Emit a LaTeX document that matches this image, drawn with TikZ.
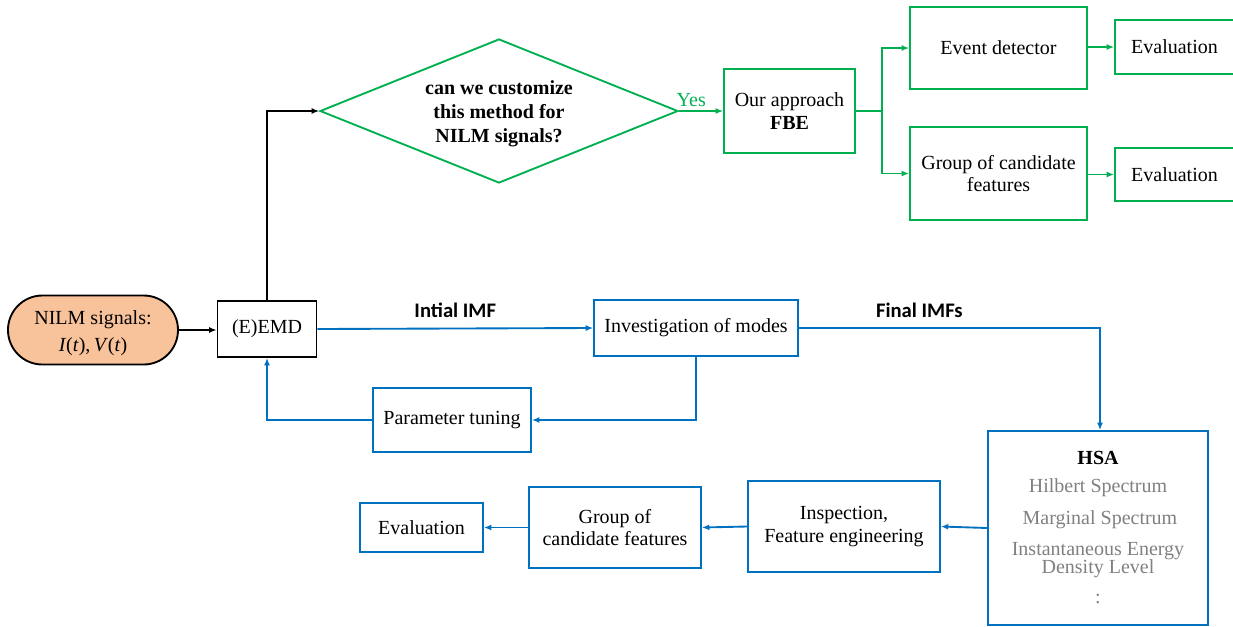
\documentclass[tikz,border=0pt]{standalone}
\usepackage{fontspec}
\setmainfont{Liberation Serif}
\newfontfamily\labfont{Carlito}
\usetikzlibrary{arrows.meta,shapes.geometric}
\definecolor{gr}{HTML}{00B050}
\definecolor{bl}{HTML}{0070C0}
\definecolor{org}{HTML}{F8C29B}
\definecolor{gry}{HTML}{808080}
\tikzset{
  box/.style={draw,line width=1.4pt,align=center,font=\fontsize{15}{17}\selectfont,inner sep=0pt},
  gbox/.style={box,draw=gr},
  bbox/.style={box,draw=bl},
  con/.style={line width=1.4pt,-{Latex[length=5.5pt,width=4.5pt]}},
  gcon/.style={con,draw=gr,color=gr},
  bcon/.style={con,draw=bl,color=bl},
  lab/.style={font=\labfont\bfseries\fontsize{15.5}{17}\selectfont},
  hs/.style={text=gry,font=\fontsize{15}{14}\selectfont,align=center}
}
\begin{document}
\begin{tikzpicture}[x=0.75pt,y=-0.75pt]
\useasboundingbox (0,0) rectangle (1233,626);
% nodes
\node[box,draw=black,fill=org,rounded corners=25.8pt,minimum width=127.5pt,minimum height=51.75pt] (nilm) at (93,330) {};
\node[align=center,font=\fontsize{15}{20.5}\selectfont] (nilmt) at (93,333) {NILM signals:\\\textit{I}(\textit{t}),\,\textit{V}(\textit{t})};
\node[box,draw=black,minimum width=74.25pt,minimum height=42pt] (emd) at (267,329) {(E)EMD};
\node[draw=gr,line width=1.4pt,diamond,aspect=2.486,minimum width=268.5pt,minimum height=108pt,inner sep=0pt] (dia) at (499,111) {};
\node[align=center,font=\bfseries\fontsize{15}{18}\selectfont] (diat) at (499,114) {can we customize\\this method for\\NILM signals?};
\node[gbox,minimum width=98.25pt,minimum height=63pt] (our) at (789.5,111) {Our approach\\\textbf{FBE}};
\node[gbox,minimum width=132.75pt,minimum height=61.5pt] (evd) at (998.5,48) {Event detector};
\node[gbox,minimum width=132.75pt,minimum height=69.75pt] (gcf) at (998.5,173.5) {Group of candidate\\features};
\node[gbox,minimum width=89.25pt,minimum height=40.5pt] (ev1) at (1174.5,47) {Evaluation};
\node[gbox,minimum width=89.25pt,minimum height=39.75pt] (ev2) at (1174.5,174.5) {Evaluation};
\node[bbox,minimum width=153pt,minimum height=42pt] (inv) at (696,328) {Investigation of modes};
\node[bbox,minimum width=118.5pt,minimum height=48pt] (pt) at (452,420) {Parameter tuning};
\node[bbox,minimum width=165pt,minimum height=145.5pt] (hsa) at (1098,528) {};
\node[font=\bfseries\fontsize{15}{16}\selectfont] (hsat) at (1098,458) {HSA};
\node[hs] (hs1) at (1098,488) {Hilbert Spectrum};
\node[hs] (hs2) at (1100,520) {Marginal Spectrum};
\node[hs] (hs3) at (1098,560) {Instantaneous Energy\\Density Level};
\node[hs] (hs4) at (1098,599) {:};
\node[bbox,minimum width=144pt,minimum height=68.25pt] (insp) at (844,526.5) {Inspection,\\Feature engineering};
\node[bbox,minimum width=129pt,minimum height=60.75pt] (grp) at (615,527.5) {Group of\\candidate features};
\node[bbox,minimum width=92.25pt,minimum height=36.75pt] (ev3) at (421.5,527.5) {Evaluation};
% connectors
\draw[con] (nilm.east) -- (nilm.east -| emd.west);
\draw[con] (emd.north) |- (dia.west);
\draw[gcon] (dia.east) -- node[pos=0.28,above=-1pt,font=\fontsize{15}{16}\selectfont,text=gr] (yes) {Yes} (our.west);
\coordinate (br) at (882,111);
\draw[line width=1.4pt,draw=gr] (our.east) -- (br);
\draw[gcon] (br) |- (evd.west);
\draw[gcon] (br) |- (gcf.west);
\draw[gcon] (evd.east |- ev1) -- (ev1.west);
\draw[gcon] (gcf.east |- ev2) -- (ev2.west);
\draw[bcon] (emd.east) -- node[lab,above=4pt,text=black] (l1) {Intial IMF} (inv.west);
\coordinate (fc) at (1100,328);
\draw[bcon] (inv.east) -- node[lab,above=4pt,text=black,pos=0.4] (l2) {Final IMFs} (fc) -- (fc |- hsa.north);
\draw[bcon] (inv.south) |- (pt.east);
\draw[bcon] (pt.west) -| (emd.south);
\draw[bcon] (hsa.west) -- (insp.east);
\draw[bcon] (insp.west) -- (grp.east);
\draw[bcon] (grp.west) -- (ev3.east);
\end{tikzpicture}
\end{document}
